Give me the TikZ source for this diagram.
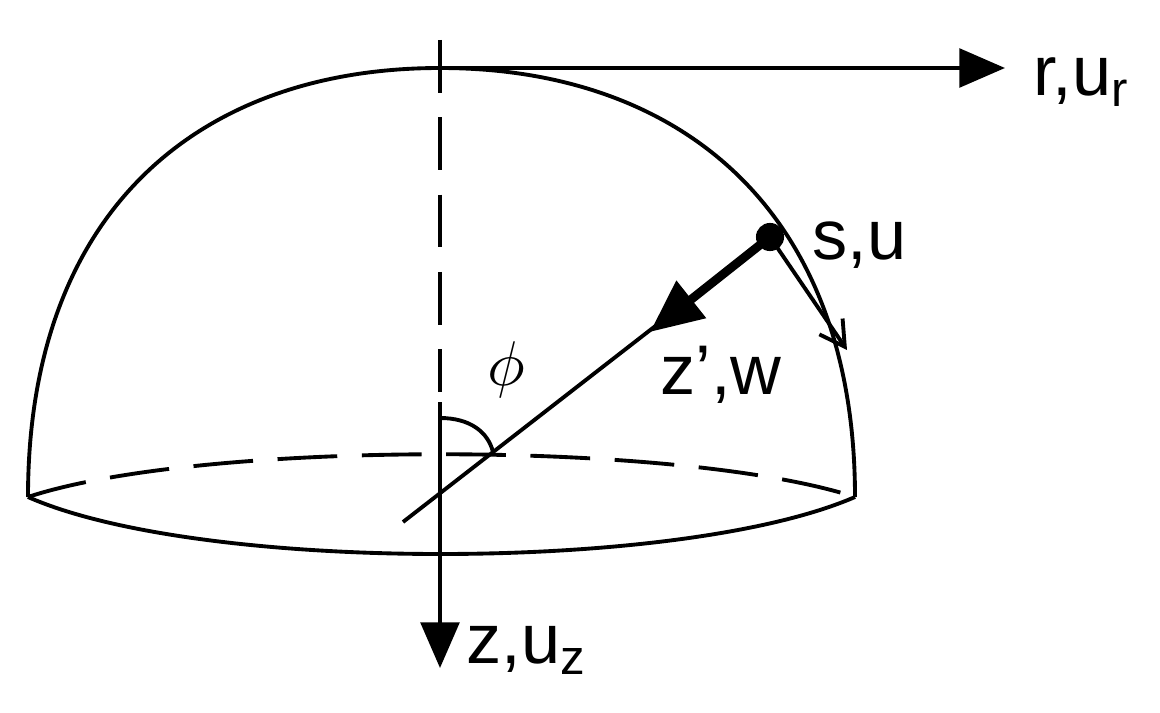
\documentclass[tikz,border=0pt]{standalone}
\usepackage{fontspec}
\setmainfont{Liberation Sans}
\usetikzlibrary{arrows.meta}
\tikzset{lbl/.style={font=\fontsize{40}{44}\selectfont, inner sep=0pt},
 ln/.style={line width=2.2pt},
 bigtip/.style={-{Triangle[length=26pt,width=22pt]}}}
\begin{document}
\begin{tikzpicture}[x=0.02cm,y=-0.02cm]
\useasboundingbox (0,0) rectangle (1160,713);
% dome
\draw[ln] (28,497) .. controls (28,210) and (200,68) .. (440,68) .. controls (680,68) and (855,210) .. (855,497);
\draw[ln] (28,497) .. controls (200,573) and (680,573) .. (855,497);
\draw[ln,dash pattern=on 34pt off 14pt] (28,497) .. controls (200,440) and (680,440) .. (855,497);
% axes
\coordinate (top) at (440,40);
\coordinate (mid) at (440,392);
\coordinate (mid2) at (440,402);
\coordinate (zt) at (440,668);
\draw[ln,dash pattern=on 30pt off 14pt] (top) -- (mid);
\draw[ln,bigtip] (mid2) -- (zt);
\coordinate (o) at (440,68);
\coordinate (rt) at (1005,68);
\draw[ln,bigtip] (o) -- (rt);
\node[lbl,anchor=west] (rl) at (1033,82) {r,u\textsubscript{r}};
\node[lbl,anchor=west] (zl) at (466,650) {z,u\textsubscript{z}};
% radial line
\coordinate (a) at (403,522);
\node[circle,fill,inner sep=0pt,minimum size=16pt] (s) at (770,237) {};
\draw[ln] (a) -- (s.center);
\coordinate (wt) at (650,332);
\draw[line width=5pt,-{Triangle[length=30pt,width=26pt]}] (s.center) -- (wt);
\coordinate (tt) at (847,350);
\draw[ln,-{Straight Barb[length=14pt,width=16pt]}] (s.center) -- (tt);
\node[lbl,anchor=west] (sl) at (812,245) {s,u};
\node[lbl,anchor=west] (wl) at (660,375) {z’,w};
% angle
\coordinate (a1) at (440,418);
\coordinate (a2) at (493,452);
\draw[ln] (a1) .. controls (470,418) and (488,432) .. (a2);
\node[inner sep=0pt,scale=3.6] (phi) at (506,370) {$\phi$};
\end{tikzpicture}
\end{document}
